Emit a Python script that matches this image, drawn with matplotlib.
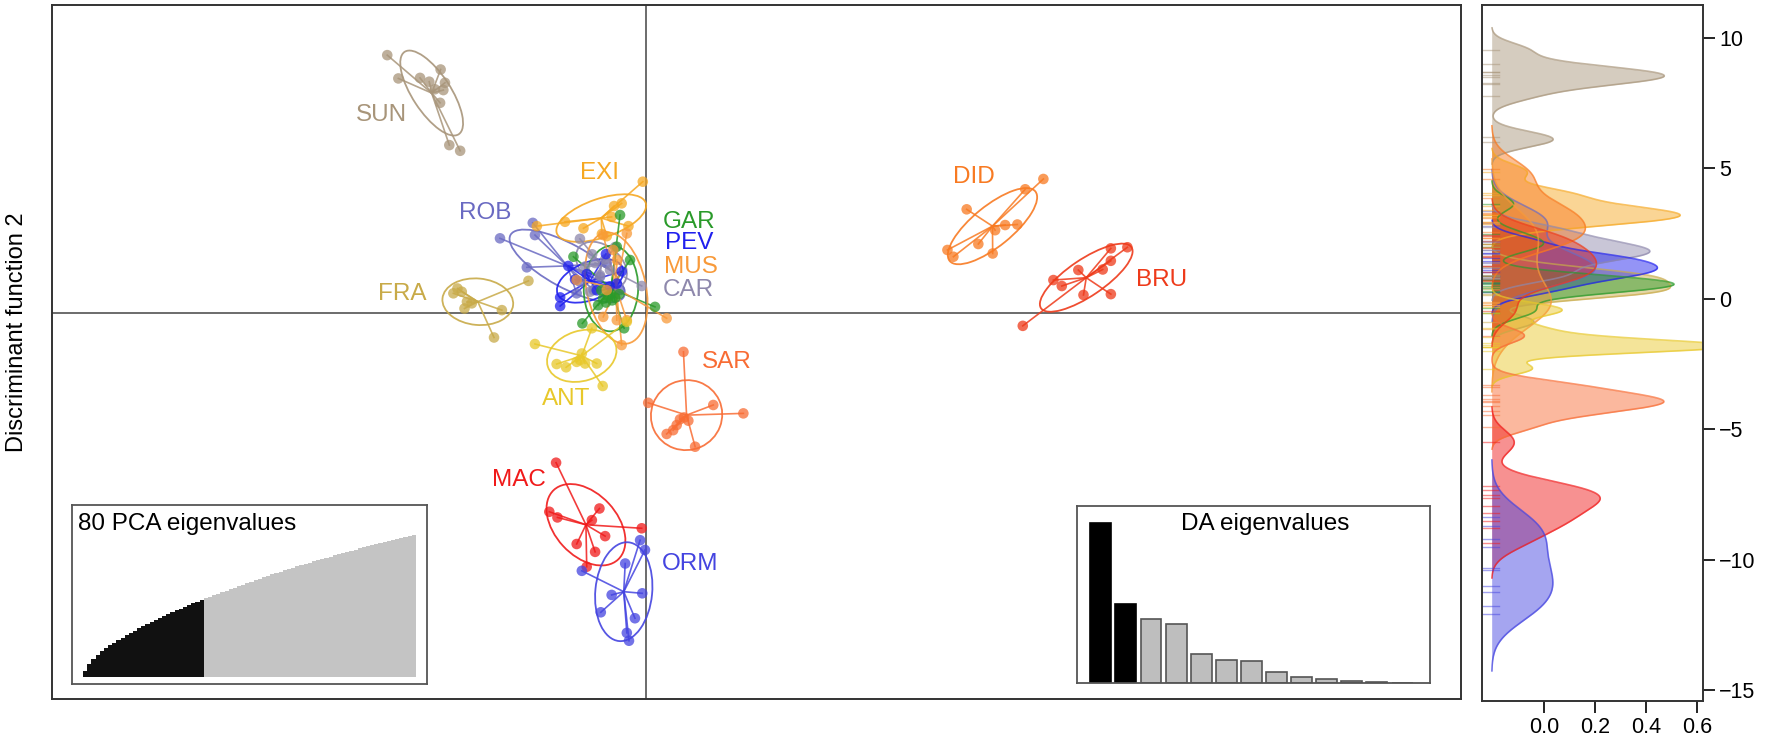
import numpy as np
import matplotlib
matplotlib.use("Agg")
import matplotlib.pyplot as plt
from matplotlib.patches import Ellipse

plt.rcParams['font.family'] = ['Liberation Sans', 'DejaVu Sans']

# --- data: discriminant scores (LD1, LD2) ---
groups = ["SUN", "FRA", "ROB", "EXI", "CAR", "PEV", "GAR", "MUS",
          "ANT", "SAR", "DID", "BRU", "MAC", "ORM"]
colors = {
    "SUN": "#A8957A", "FRA": "#C8AA48", "ROB": "#6A6AC2", "EXI": "#F6A822",
    "CAR": "#8E88AC", "PEV": "#2020EE", "GAR": "#2A9A2A", "MUS": "#F89A3A",
    "ANT": "#E8C82A", "SAR": "#F86C34", "DID": "#F87A22", "BRU": "#EE3A1A",
    "MAC": "#F01A1A", "ORM": "#4444E0",
}

sun_ld1 = [-9.55, -9.14, -8.34, -8.00, -7.58, -7.42, -7.48, -7.79, -7.60, -7.26, -6.86]
sun_ld2 = [9.53, 8.67, 8.69, 8.55, 9.00, 8.51, 8.24, 8.27, 7.77, 6.21, 6.00]
fra_ld1 = [-6.96, -7.11, -6.80, -6.61, -6.70, -6.43, -5.32, -4.34, -5.61]
fra_ld2 = [0.92, 0.74, 0.80, 0.43, 0.18, 0.37, 0.12, 1.20, -0.89]
rob_ld1 = [-4.18, -4.10, -5.39, -4.40, -2.44, -1.94, -1.45, -0.96, -2.56, -1.70]
rob_ld2 = [3.34, 2.89, 2.77, 1.70, 1.17, 0.86, 1.85, 0.86, 0.74, 1.35]
exi_ld1 = [-0.12, -0.90, -1.18, -2.99, -4.03, -2.31, -1.27, -1.63, -1.45, -0.65]
exi_ld2 = [4.86, 4.06, 3.96, 3.38, 3.22, 3.14, 3.56, 2.93, 2.85, 3.22]
car_ld1 = [-0.16, -2.07, -1.70, -1.33, -2.25, -1.88, -1.51, -1.99, -1.14, -2.44]
car_ld2 = [1.01, 0.80, 1.41, 1.60, 1.73, 1.86, 1.99, 2.18, 2.45, 2.75]
pev_ld1 = [-1.48, -2.87, -0.90, -3.17, -3.17, -2.62, -1.82, -1.33, -2.19, -1.08]
pev_ld2 = [2.19, 1.75, 1.55, 0.59, 0.27, 1.25, 0.85, 1.00, 1.45, 1.10]
gar_ld1 = [-0.96, -2.68, -1.08, -0.59, -0.99, 0.33, -2.35, -0.81,
           -1.77, -1.48, -1.25, -1.59, -1.14, -1.40, -1.30, -1.65]
gar_ld2 = [3.63, 2.09, 2.46, 1.97, 0.71, 0.24, -0.37, -0.55,
           0.30, 0.40, 0.48, 0.54, 0.58, 0.64, 0.72, 0.85]
mus_ld1 = [-0.71, -1.58, -1.21, -1.08, -2.56, -1.58, -1.08, -0.71, 0.76, -0.90, -1.45]
mus_ld2 = [2.95, 2.89, 2.34, 1.97, 1.23, -0.13, -0.25, -0.25, -0.18, -1.17, 0.86]
ant_ld1 = [-4.10, -2.00, -2.37, -2.56, -2.25, -1.82, -3.30, -2.95, -1.60, -2.44, -0.71]
ant_ld2 = [-1.13, -0.55, -1.48, -1.79, -1.85, -1.85, -1.87, -1.99, -2.68, -1.72, -0.31]
sar_ld1 = [1.38, 0.08, 2.48, 3.59, 1.81, 1.25, 1.56, 1.13, 1.00, 0.76, 1.40]
sar_ld2 = [-1.42, -3.30, -3.38, -3.69, -4.92, -3.91, -3.96, -4.12, -4.31, -4.45, -3.84]
did_ld1 = [14.66, 13.99, 11.83, 13.25, 13.70, 12.88, 12.26, 12.79, 11.12, 11.34]
did_ld2 = [4.96, 4.58, 3.84, 3.26, 3.28, 3.07, 2.56, 2.21, 2.34, 2.09]
bru_ld1 = [17.15, 17.76, 17.15, 16.85, 15.95, 15.03, 15.34, 16.14, 17.15, 13.90]
bru_ld2 = [2.40, 2.44, 1.94, 1.62, 1.60, 1.23, 1.01, 0.68, 0.71, -0.46]
mac_ld1 = [-3.32, -3.57, -3.27, -1.72, -2.00, -1.51, -2.56, -1.88, -2.19, -0.16]
mac_ld2 = [-5.51, -7.32, -7.53, -7.20, -7.63, -8.22, -8.51, -8.80, -9.35, -7.93]
orm_ld1 = [-2.37, -0.77, -0.22, -0.04, -1.27, -0.14, -1.67, -0.41, -0.71, -0.63]
orm_ld2 = [-9.50, -9.23, -8.37, -8.73, -10.39, -10.33, -11.03, -11.25, -11.79, -12.08]

scores = {
    "SUN": (sun_ld1, sun_ld2), "FRA": (fra_ld1, fra_ld2), "ROB": (rob_ld1, rob_ld2),
    "EXI": (exi_ld1, exi_ld2), "CAR": (car_ld1, car_ld2), "PEV": (pev_ld1, pev_ld2),
    "GAR": (gar_ld1, gar_ld2), "MUS": (mus_ld1, mus_ld2), "ANT": (ant_ld1, ant_ld2),
    "SAR": (sar_ld1, sar_ld2), "DID": (did_ld1, did_ld2), "BRU": (bru_ld1, bru_ld2),
    "MAC": (mac_ld1, mac_ld2), "ORM": (orm_ld1, orm_ld2),
}

# label anchor points (LD units)
label_x = [-9.76, -9.01, -5.94, -1.70, 1.55, 1.59, 1.59, 1.66, -2.95, 2.99, 12.09, 19.02, -4.69, 1.64]
label_y = [7.32, 0.71, 3.70, 5.18, 0.86, 2.58, 3.37, 1.72, -3.15, -1.79, 5.04, 1.25, -6.14, -9.25]

# cumulative PCA variance (%) for the first 80 axes, 29 retained
n_pca = 29
pca_cumvar = [3.8, 7.9, 11.0, 13.6, 15.7, 17.6, 19.35, 21.0, 22.55, 24.05,
              25.5, 26.9, 28.25, 29.57, 30.87, 32.14, 33.39, 34.61, 35.81, 36.99,
              38.15, 39.29, 40.41, 41.51, 42.59, 43.65, 44.69, 45.71, 46.71, 47.7,
              48.6, 49.6, 50.5, 51.5, 52.4, 53.3, 54.2, 55.1, 56.0, 56.9,
              57.8, 58.7, 59.5, 60.4, 61.2, 62.1, 62.9, 63.7, 64.5, 65.3,
              66.1, 66.9, 67.7, 68.5, 69.2, 70.0, 70.7, 71.5, 72.2, 72.9,
              73.6, 74.3, 75.0, 75.7, 76.4, 77.1, 77.8, 78.4, 79.1, 79.7,
              80.4, 81.0, 81.6, 82.2, 82.8, 83.4, 84.0, 84.6, 85.2, 85.8]

# DA eigenvalues, 2 retained
n_da = 2
da_eig = [160, 79.4, 64.4, 58.7, 29.4, 23.4, 22.0, 11.0, 6.0, 4.4, 1.7, 1.0, 0.3]


def bw_nrd0(v):
    v = np.asarray(v)
    q75, q25 = np.percentile(v, [75, 25])
    lo = min(np.std(v, ddof=1), (q75 - q25) / 1.34)
    return 0.9 * lo * len(v) ** (-0.2)


def kde(v):
    v = np.asarray(v)
    bw = bw_nrd0(v)
    grid = np.linspace(v.min() - 3 * bw, v.max() + 3 * bw, 512)
    d = np.exp(-0.5 * ((grid[:, None] - v[None, :]) / bw) ** 2).sum(axis=1)
    d /= len(v) * bw * np.sqrt(2 * np.pi)
    return grid, d


W, H = 1773, 740
fig = plt.figure(figsize=(W / 100, H / 100), dpi=100)


def px_axes(l, t, r, b):
    return fig.add_axes([l / W, 1 - b / H, (r - l) / W, (b - t) / H])


# --- main scatter ---
ax = px_axes(52, 5, 1461, 699)
ax.set_xlim(-21.92, 30.07)
ax.set_ylim(-14.23, 11.38)
ax.set_xticks([])
ax.set_yticks([])
for s in ax.spines.values():
    s.set_linewidth(1.4)
    s.set_color("#333333")
ax.axhline(0, color="#444444", lw=1.1, zorder=1)
ax.axvline(0, color="#444444", lw=1.1, zorder=1)

for g in groups:
    x = np.array(scores[g][0])
    y = np.array(scores[g][1])
    c = colors[g]
    cx, cy = x.mean(), y.mean()
    for xi, yi in zip(x, y):
        ax.plot([cx, xi], [cy, yi], color=c, lw=1.2, alpha=0.85, zorder=2)
    cov = np.cov(np.vstack([x, y]), bias=True)
    vals, vecs = np.linalg.eigh(cov)
    ang = np.degrees(np.arctan2(vecs[1, 1], vecs[0, 1]))
    ax.add_patch(Ellipse((cx, cy), 2 * 1.5 * np.sqrt(vals[1]), 2 * 1.5 * np.sqrt(vals[0]),
                         angle=ang, fill=False, edgecolor=c, lw=1.3, alpha=0.9, zorder=2))
    ax.scatter(x, y, s=58, color=c, alpha=0.75, edgecolors="none", zorder=3)

for g, lx, ly in zip(groups, label_x, label_y):
    ax.text(lx, ly, g, color=colors[g], fontsize=17.5, ha="center", va="center", zorder=4)

fig.text(17 / W, 1 - 332 / H, "Discriminant function 2", rotation=90,
         ha="center", va="center", fontsize=17)

# --- inset: PCA eigenvalues ---
ai = px_axes(72, 505, 427, 684)
pca_idx = np.arange(1, len(pca_cumvar) + 1)
pca_cols = ["#111111" if i <= n_pca else "#C4C4C4" for i in pca_idx]
ai.bar(pca_idx, pca_cumvar, width=1.0, color=pca_cols, linewidth=0)
ai.set_xlim(-2.16, 83.16)
ai.set_ylim(-4, 104)
ai.set_xticks([])
ai.set_yticks([])
for s in ai.spines.values():
    s.set_color("#555555")
    s.set_linewidth(1.3)
ai.text(0.017, 0.955, "80 PCA eigenvalues", transform=ai.transAxes,
        ha="left", va="top", fontsize=17.5)

# --- inset: DA eigenvalues ---
ad = px_axes(1077, 506, 1430, 683)
da_pos = 0.7 + 1.2 * np.arange(len(da_eig))
da_cols = ["black" if i < n_da else "#BEBEBE" for i in range(len(da_eig))]
da_edge = ["black" if i < n_da else "#555555" for i in range(len(da_eig))]
ad.bar(da_pos, da_eig, width=1.0, color=da_cols, edgecolor=da_edge, linewidth=1.2)
ad.set_xlim(-0.435, 16.435)
ad.set_ylim(0, max(da_eig) * 1.108)
ad.set_xticks([])
ad.set_yticks([])
for s in ad.spines.values():
    s.set_color("#555555")
    s.set_linewidth(1.3)
ad.text(0.533, 0.96, "DA eigenvalues", transform=ad.transAxes,
        ha="center", va="top", fontsize=17.5)

# --- side panel: LD2 densities ---
ar = px_axes(1482, 5, 1703, 701)
base = -0.205
for g in groups:
    y = scores[g][1]
    c = colors[g]
    grid, d = kde(y)
    ar.fill_betweenx(grid, base, base + d, color=c, alpha=0.48, linewidth=0)
    ar.plot(base + d, grid, color=c, lw=1.2, alpha=0.7)
    for yi in y:
        ar.plot([-0.243, -0.176], [yi, yi], color=c, lw=1.0, alpha=0.5)
ar.set_xlim(-0.243, 0.624)
ar.set_ylim(-15.42, 11.25)
ar.yaxis.tick_right()
ar.set_yticks([10, 5, 0, -5, -10, -15])
ar.set_xticks([0.0, 0.2, 0.4, 0.6])
ar.set_xticklabels(["0.0", "0.2", "0.4", "0.6"])
ar.tick_params(axis="both", direction="out", length=8.5, width=1.2, labelsize=15.5, pad=3)
for s in ar.spines.values():
    s.set_linewidth(1.4)
    s.set_color("#333333")

fig.savefig("out.png", dpi=100)
